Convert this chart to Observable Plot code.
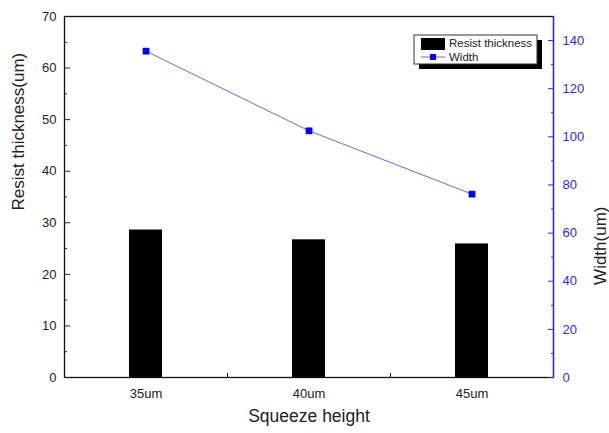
<!DOCTYPE html>
<html><head><meta charset="utf-8">
<script src="https://cdn.jsdelivr.net/npm/d3@7"></script>
<script src="https://cdn.jsdelivr.net/npm/@observablehq/plot@0.6"></script>
<style>body{margin:0;background:#fff}#chart{width:609px;height:433px}</style>
</head><body><div id="chart"></div>
<script>
const categories = ["35um", "40um", "45um"];
const resistThickness = [28.6, 26.7, 25.9];
const widthValues = [135.6, 102.5, 76.2];
const leftTicks = [0, 10, 20, 30, 40, 50, 60, 70];
const leftMinorTicks = [5, 15, 25, 35, 45, 55, 65];
const rightTicks = [0, 20, 40, 60, 80, 100, 120, 140];
const rightMinorTicks = [10, 30, 50, 70, 90, 110, 130];
const leftMax = 70, rightMax = 150;
const k = leftMax / rightMax;

const W = 609, H = 433, ML = 64, MR = 56, MT = 16, MB = 56;
const step = (W - ML - MR) / categories.length;
const blue = "#2b2be0";
const font = "Liberation Sans, Arial, sans-serif";

const data = categories.map((c, i) => ({cat: c, thick: resistThickness[i], width: widthValues[i]}));

const chart = Plot.plot({
  width: W, height: H,
  marginLeft: ML, marginRight: MR, marginTop: MT, marginBottom: MB,
  style: {fontFamily: font, background: "#fff"},
  x: {type: "band", domain: categories, paddingInner: 0.8, paddingOuter: 0.4, axis: null},
  y: {domain: [0, leftMax], axis: null},
  marks: [
    Plot.barY(data, {x: "cat", y: "thick", fill: "black"}),
    Plot.line(data, {x: "cat", y: d => d.width * k, stroke: "#6a6ae6", strokeWidth: 1}),
    Plot.dot(data, {x: "cat", y: d => d.width * k, symbol: "square", r: 3.8, fill: "#0000ff", stroke: null}),
    Plot.frame({stroke: "#111", strokeWidth: 1.3}),
    Plot.ruleX([categories[categories.length - 1]], {dx: step / 2, y1: 0, y2: leftMax, stroke: blue, strokeWidth: 1.3}),
    // left axis
    Plot.axisY({anchor: "left", ticks: leftTicks, tickSize: -6, tickPadding: 14, fontSize: 13, color: "#222", label: null, tickFormat: d => d}),
    Plot.axisY({anchor: "left", ticks: leftMinorTicks, tickSize: -3, tickFormat: () => "", label: null, color: "#222"}),
    // right axis
    Plot.axisY({anchor: "right", ticks: rightTicks.map(v => v * k), tickSize: -6, tickPadding: 15, fontSize: 13, color: blue, label: null, textAnchor: "start", tickFormat: d => String(Math.round(d / k))}),
    Plot.axisY({anchor: "right", ticks: rightMinorTicks.map(v => v * k), tickSize: -3, tickFormat: () => "", label: null, color: blue}),
    // bottom axis
    Plot.axisX({ticks: categories, tickSize: 0, tickPadding: 11, fontSize: 13, color: "#222", label: null}),
    Plot.ruleX(categories.slice(1), {dx: -step / 2, y1: 0, y2: 0.8, stroke: "#111"}),
    // axis titles
    Plot.text(["Resist thickness(um)"], {frameAnchor: "left", dx: -46, dy: 13.5, rotate: -90, fontSize: 17, fill: "#222"}),
    Plot.text(["Width(um)"], {frameAnchor: "right", dx: 47, dy: 9.5, rotate: -90, fontSize: 17, fill: "#222"}),
    Plot.text(["Squeeze height"], {frameAnchor: "bottom", dy: 44.7, fontSize: 17.5, fill: "#222"})
  ]
});

// legend
const svg = d3.select(chart);
const lg = svg.append("g").attr("font-family", font).attr("font-size", 11.5).attr("text-anchor", "start");
lg.append("rect").attr("x", 419).attr("y", 40).attr("width", 123).attr("height", 29).attr("fill", "#000");
lg.append("rect").attr("x", 414).attr("y", 35).attr("width", 123).attr("height", 29).attr("fill", "#fff").attr("stroke", "#333").attr("stroke-width", 1);
lg.append("rect").attr("x", 421).attr("y", 38).attr("width", 24).attr("height", 12).attr("fill", "#000");
lg.append("line").attr("x1", 421).attr("x2", 445).attr("y1", 57).attr("y2", 57).attr("stroke", "#6a6ae6");
lg.append("rect").attr("x", 430).attr("y", 54).attr("width", 6).attr("height", 6).attr("fill", "#0000ff");
lg.append("text").attr("x", 449).attr("y", 44).attr("dominant-baseline", "middle").attr("fill", "#222").text("Resist thickness");
lg.append("text").attr("x", 449).attr("y", 57.5).attr("dominant-baseline", "middle").attr("fill", "#222").text("Width");

document.getElementById("chart").appendChild(chart);
</script>
</body></html>
